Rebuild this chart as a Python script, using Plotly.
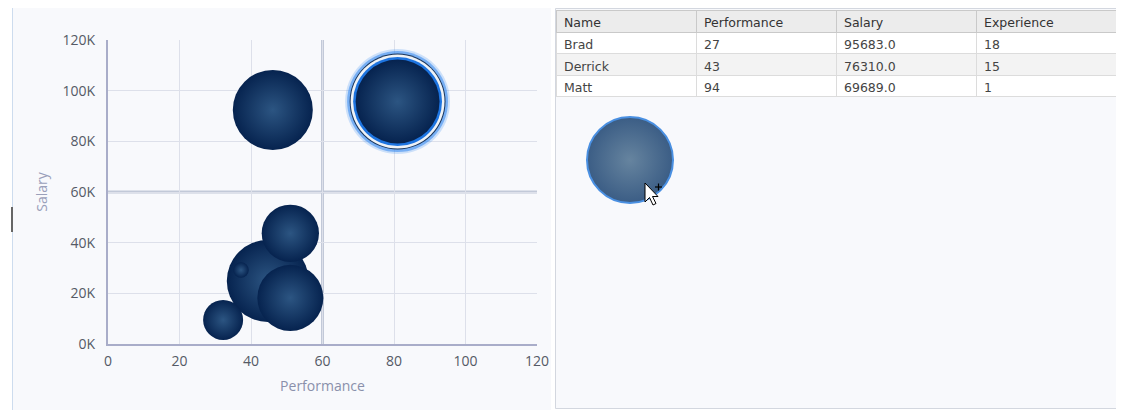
import plotly.graph_objects as go

# Bubble chart data (performance vs salary, bubble area = experience)
performance = [44.7, 32.2, 51.0, 51.0, 37.2, 46.1, 81.0]
salary = [24900, 9500, 43700, 18200, 29200, 92400, 95700]
experience = [16.8, 4.0, 8.2, 10.9, 0.6, 16.0, 17.6]
selected = 6  # index of highlighted bubble

# bubble being dragged over the table panel (in panel pixel units)
drag_x = [630]
drag_y = [160]
drag_experience = [18.5]

quadrant_x = 60
quadrant_y = 60000

x_ticks = [0, 20, 40, 60, 80, 100, 120]
y_ticks = [0, 20000, 40000, 60000, 80000, 100000, 120000]
y_tick_labels = ["0K", "20K", "40K", "60K", "80K", "100K", "120K"]

# table on the right
table_header = ["Name", "Performance", "Salary", "Experience"]
names = ["Brad", "Derrick", "Matt"]
perf_col = ["27", "43", "94"]
salary_col = ["95683.0", "76310.0", "69689.0"]
exp_col = ["18", "15", "1"]

# page has an 8px body margin, so the figure is drawn 8px in from the window edge
OFF = 8
W, H = 1124 - OFF, 410 - OFF
SIZEREF = 0.005
BG = "#f8f9fc"


def px_diam(v):
    # same as plotly's area sizemode: radius = sqrt(v / 2 / sizeref)
    return 2 * (v / 2 / SIZEREF) ** 0.5


def px_x(p):
    return (p - OFF) / W


def px_y(p):
    return 1 - (p - OFF) / H


fig = go.Figure()

# glow / ring behind the selected bubble
d = px_diam(experience[selected])
rings = [
    (d + 21, "rgba(50,135,240,0.22)"),
    (d + 17, "rgba(50,135,240,0.55)"),
    (d + 12, "#18345a"),
    (d + 10, "#eef2f6"),
    (d + 5, "#1d74e0"),
]
fig.add_trace(go.Scatter(
    x=[performance[selected]] * len(rings),
    y=[salary[selected]] * len(rings),
    mode="markers",
    marker=dict(size=[r[0] for r in rings], sizemode="diameter",
                color=[r[1] for r in rings], opacity=1, line=dict(width=0)),
    hoverinfo="skip", showlegend=False, cliponaxis=False,
))

fig.add_trace(go.Scatter(
    x=performance, y=salary, mode="markers",
    marker=dict(size=experience, sizemode="area", sizeref=SIZEREF,
                color="#06234f", opacity=1, line=dict(width=0),
                gradient=dict(type="radial", color="#2c5582")),
    showlegend=False, cliponaxis=False,
))

# drag ghost, on its own small hidden subplot over the table panel
fig.add_trace(go.Scatter(
    x=drag_x, y=drag_y, mode="markers", xaxis="x2", yaxis="y2",
    marker=dict(size=drag_experience, sizemode="area", sizeref=SIZEREF,
                color="#3b5d85", opacity=1,
                line=dict(width=2, color="#4a90e2"),
                gradient=dict(type="radial", color="#66849f")),
    hoverinfo="skip", showlegend=False, cliponaxis=False,
))

fig.add_trace(go.Table(
    domain=dict(x=[px_x(556), px_x(1116)], y=[0.3, px_y(10)]),
    columnwidth=[1, 1, 1, 1],
    header=dict(values=table_header, align="left", height=22,
                fill_color="#ececec", line_color="#c9c9c9",
                font=dict(family="DejaVu Sans", size=12.5, color="#333333")),
    cells=dict(values=[names, perf_col, salary_col, exp_col], align="left",
               height=21.5, line_color="#dcdcdc",
               fill_color=[["#ffffff", "#f3f3f3", "#ffffff"]] * 4,
               font=dict(family="DejaVu Sans", size=12.5, color="#444444")),
))

shapes = [
    # left panel
    dict(type="rect", xref="paper", yref="paper", x0=px_x(12), x1=px_x(551),
         y0=0, y1=1, fillcolor=BG, line=dict(width=0), layer="below"),
    dict(type="line", xref="paper", yref="paper", x0=px_x(12.5), x1=px_x(12.5),
         y0=0, y1=1, line=dict(color="#cddcee", width=1), layer="below"),
    dict(type="line", xref="paper", yref="paper", x0=px_x(12), x1=px_x(12),
         y0=px_y(232), y1=px_y(207), line=dict(color="#666666", width=2)),
    # right panel
    dict(type="rect", xref="paper", yref="paper", x0=px_x(555.5), x1=px_x(1116.5),
         y0=px_y(408.5), y1=px_y(8.5), fillcolor=BG,
         line=dict(color="#d3d7df", width=1), layer="below"),
    # quadrant lines
    dict(type="line", xref="x", yref="y", x0=quadrant_x, x1=quadrant_x,
         y0=0, y1=120000, line=dict(color="#c2c9d8", width=3), layer="below"),
    dict(type="line", xref="x", yref="y", x0=0, x1=120, y0=quadrant_y,
         y1=quadrant_y, line=dict(color="#c2c9d8", width=3), layer="below"),
]

# mouse cursor over the drag ghost
tip_x, tip_y = 645, 183
arrow = [(0, 0), (0, 19), (4.5, 14.5), (8, 22), (11, 20.5), (7.5, 13.5), (13, 13.5)]
path = "M " + " L ".join(f"{px_x(tip_x + a)},{px_y(tip_y + b)}" for a, b in arrow) + " Z"
shapes.append(dict(type="path", xref="paper", yref="paper", path=path,
                   fillcolor="white", line=dict(color="black", width=1)))
shapes.append(dict(type="line", xref="paper", yref="paper", x0=px_x(655), x1=px_x(662),
                   y0=px_y(187), y1=px_y(187), line=dict(color="black", width=1.2)))
shapes.append(dict(type="line", xref="paper", yref="paper", x0=px_x(658.5), x1=px_x(658.5),
                   y0=px_y(183.5), y1=px_y(190.5), line=dict(color="black", width=1.2)))

fig.update_layout(
    width=W, height=H,
    margin=dict(l=0, r=0, t=0, b=0),
    paper_bgcolor="white",
    plot_bgcolor=BG,
    font=dict(family="Open Sans", size=14, color="#555a66"),
    shapes=shapes,
    xaxis=dict(
        domain=[px_x(108), px_x(537)], range=[0, 120], tickvals=x_ticks,
        showgrid=True, gridcolor="#dde0ea", gridwidth=1, zeroline=False,
        showline=True, linecolor="#a9adc9", linewidth=2,
        ticks="", ticklabelstandoff=3, automargin=False,
        title=dict(text="Performance", standoff=12,
                   font=dict(size=14, color="#8a90ab")),
    ),
    yaxis=dict(
        domain=[px_y(344), px_y(40)], range=[0, 120000], tickvals=y_ticks,
        ticktext=y_tick_labels,
        showgrid=True, gridcolor="#dde0ea", gridwidth=1, zeroline=False,
        showline=True, linecolor="#a9adc9", linewidth=2,
        ticks="", ticklabelstandoff=8, automargin=False,
        title=dict(text="Salary", standoff=12,
                   font=dict(size=14, color="#9aa0ba")),
    ),
    xaxis2=dict(domain=[px_x(570), px_x(690)], range=[570, 690],
                visible=False, showgrid=False, zeroline=False, anchor="y2"),
    yaxis2=dict(domain=[px_y(220), px_y(100)], range=[220, 100],
                visible=False, showgrid=False, zeroline=False, anchor="x2"),
)

fig.write_html("out.html")
